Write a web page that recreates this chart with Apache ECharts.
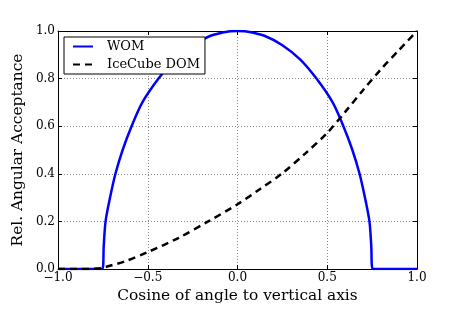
<!DOCTYPE html>
<html>
<head>
<meta charset="utf-8">
<script src="https://cdn.jsdelivr.net/npm/echarts@6/dist/echarts.min.js"></script>
<style>html,body{margin:0;padding:0;background:#fff;}#c{width:463px;height:309px;}</style>
</head>
<body>
<div id="c"></div>
<script>
const womX = [-1.0, -0.9, -0.8, -0.753, -0.745, -0.735, -0.71, -0.68, -0.64, -0.59, -0.53, -0.44, -0.35, -0.25, -0.15, -0.05, 0.0, 0.05, 0.15, 0.25, 0.35, 0.44, 0.53, 0.59, 0.64, 0.68, 0.71, 0.735, 0.745, 0.753, 0.8, 0.9, 1.0];
const womY = [0, 0, 0, 0, 0.1, 0.2, 0.3, 0.4, 0.5, 0.6, 0.7, 0.8, 0.88, 0.94, 0.98, 0.998, 1.0, 0.998, 0.98, 0.94, 0.88, 0.8, 0.7, 0.6, 0.5, 0.4, 0.3, 0.2, 0.1, 0, 0, 0, 0];
const domX = [-1.0, -0.9, -0.8, -0.757, -0.7, -0.627, -0.5, -0.33, -0.163, 0.0, 0.12, 0.246, 0.38, 0.5, 0.6, 0.7, 0.8, 0.9, 1.0];
const domY = [0, 0, 0.001, 0.004, 0.016, 0.032, 0.071, 0.13, 0.2, 0.272, 0.333, 0.4, 0.487, 0.572, 0.66, 0.752, 0.84, 0.92, 1.0];
const xTickLabels = {'-1': '−1.0', '-0.5': '−0.5', '0': '0.0', '0.5': '0.5', '1': '1.0'};
const yTickLabels = ['0.0', '0.2', '0.4', '0.6', '0.8', '1.0'];
const seriesNames = ['WOM', 'IceCube DOM'];
const xTitle = 'Cosine of angle to vertical axis';
const yTitle = 'Rel. Angular Acceptance';

const FONT = 'DejaVu Serif';
const chart = echarts.init(document.getElementById('c'), null, {renderer: 'canvas'});
const gridLine = {show: true, lineStyle: {color: '#888', width: 1, type: [1, 2]}};
const tick = {show: true, inside: true, length: 4, lineStyle: {color: '#000', width: 1}};
const axisLine = {show: true, onZero: false, lineStyle: {color: '#000', width: 1}};
chart.setOption({
  animation: false,
  backgroundColor: '#fff',
  grid: {left: 58, right: 46, top: 31, bottom: 40, containLabel: false},
  legend: {
    left: 64, top: 37, orient: 'vertical',
    backgroundColor: '#fff', borderColor: '#000', borderWidth: 1, borderRadius: 0,
    padding: [3, 5, 3, 8], itemWidth: 20, itemHeight: 14, itemGap: 5,
    itemStyle: {color: 'rgba(0,0,0,0)', borderWidth: 0, opacity: 0},
    textStyle: {fontFamily: FONT, fontSize: 13, color: '#000', padding: [0, 0, 0, 9]},
    data: seriesNames
  },
  xAxis: [{
    type: 'value', min: -1, max: 1, interval: 0.5, position: 'bottom',
    name: xTitle, nameLocation: 'middle', nameGap: 19,
    nameTextStyle: {fontFamily: FONT, fontSize: 15.4, color: '#000'},
    axisLine: axisLine, axisTick: tick, splitLine: gridLine,
    axisLabel: {fontFamily: FONT, fontSize: 12, color: '#000', margin: 3,
      formatter: v => xTickLabels[String(v)]}
  }, {
    type: 'value', min: -1, max: 1, interval: 0.5, position: 'top',
    axisLine: axisLine, axisTick: tick, splitLine: {show: false}, axisLabel: {show: false}
  }],
  yAxis: [{
    type: 'value', min: 0, max: 1, interval: 0.2, position: 'left',
    name: yTitle, nameLocation: 'middle', nameGap: 28,
    nameTextStyle: {fontFamily: FONT, fontSize: 15.4, color: '#000'},
    axisLine: axisLine, axisTick: tick, splitLine: gridLine,
    axisLabel: {fontFamily: FONT, fontSize: 12, color: '#000', margin: 3,
      formatter: (v, i) => yTickLabels[Math.round(v / 0.2)]}
  }, {
    type: 'value', min: 0, max: 1, interval: 0.2, position: 'right',
    axisLine: axisLine, axisTick: tick, splitLine: {show: false}, axisLabel: {show: false}
  }],
  series: [{
    name: seriesNames[0], type: 'line', symbol: 'none', smooth: 0.3,
    lineStyle: {color: '#0000ff', width: 2.5}, itemStyle: {color: '#0000ff'},
    data: womX.map((x, i) => [x, womY[i]])
  }, {
    name: seriesNames[1], type: 'line', symbol: 'none', smooth: 0.3,
    lineStyle: {color: '#000', width: 2.5, type: [7, 5]}, itemStyle: {color: '#000'},
    data: domX.map((x, i) => [x, domY[i]])
  }]
});
</script>
</body>
</html>
